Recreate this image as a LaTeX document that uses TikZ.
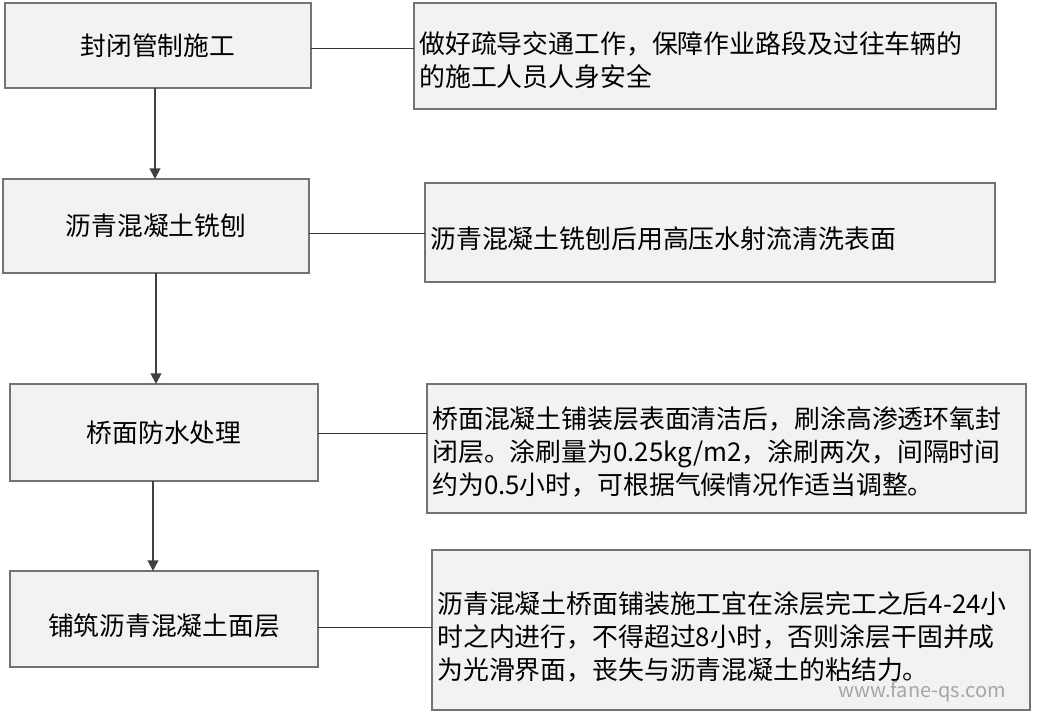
\documentclass[tikz,border=0pt]{standalone}
\usepackage{fontspec}
\setmainfont{Noto Sans CJK SC}
\usetikzlibrary{arrows.meta}
\tikzset{
  box/.style={draw=black!55, fill=black!5, line width=0.8pt},
  lbl/.style={font=\fontsize{19.3pt}{24.5pt}\selectfont, inner sep=0pt},
  rtxt/.style={font=\fontsize{19.4pt}{24.8pt}\selectfont, inner sep=0pt, anchor=west, align=left},
  link/.style={draw=black!80, line width=0.6pt},
  arr/.style={draw=black!75, line width=1.5pt, -{Triangle[length=8pt,width=8pt]}}
}
\begin{document}
\begin{tikzpicture}[x=0.75pt,y=-0.75pt]
\useasboundingbox (0,0) rectangle (1040,713);
% left boxes
\draw[box] (5,3) rectangle (311,88);
\node[lbl] (a) at (158,45.5) {封闭管制施工};
\draw[box] (3,179) rectangle (309,273);
\node[lbl] (b) at (156,226) {沥青混凝土铣刨};
\draw[box] (10,384) rectangle (318,481);
\node[lbl] (c) at (164,432.5) {桥面防水处理};
\draw[box] (10,571) rectangle (318,667);
\node[lbl] (d) at (164,626) {铺筑沥青混凝土面层};
% right boxes
\draw[box] (414,3) rectangle (996,109);
\node[rtxt] (ra) at (419,60) {做好疏导交通工作，保障作业路段及过往车辆的\\的施工人员人身安全};
\draw[box] (425,183) rectangle (995,282);
\node[rtxt] (rb) at (430,239) {沥青混凝土铣刨后用高压水射流清洗表面};
\draw[box] (427,384) rectangle (1026,513);
\node[rtxt] (rc) at (432,452) {桥面混凝土铺装层表面清洁后，刷涂高渗透环氧封\\闭层。涂刷量为0.25kg/m2，涂刷两次，间隔时间\\约为0.5小时，可根据气候情况作适当调整。};
\draw[box] (432,550) rectangle (1030,710);
\node[rtxt] (rd) at (437,637) {沥青混凝土桥面铺装施工宜在涂层完工之后4-24小\\时之内进行，不得超过8小时，否则涂层干固并成\\为光滑界面，丧失与沥青混凝土的粘结力。};
% links
\coordinate (a1) at (311,48); \coordinate (a2) at (414,48);
\draw[link] (a1) -- (a2);
\coordinate (b1) at (309,233); \coordinate (b2) at (425,233);
\draw[link] (b1) -- (b2);
\coordinate (c1) at (318,433); \coordinate (c2) at (427,433);
\draw[link] (c1) -- (c2);
\coordinate (d1) at (318,627); \coordinate (d2) at (432,627);
\draw[link] (d1) -- (d2);
% arrows
\coordinate (s1) at (155,88); \coordinate (e1) at (155,179);
\draw[arr] (s1) -- (e1);
\coordinate (s2) at (156,273); \coordinate (e2) at (156,384);
\draw[arr] (s2) -- (e2);
\coordinate (s3) at (153,481); \coordinate (e3) at (153,571);
\draw[arr] (s3) -- (e3);
\node[font=\fontsize{15pt}{16pt}\selectfont, text=black!35, inner sep=0pt] (wm) at (922,692) {www.fane-qs.com};
\end{tikzpicture}
\end{document}
